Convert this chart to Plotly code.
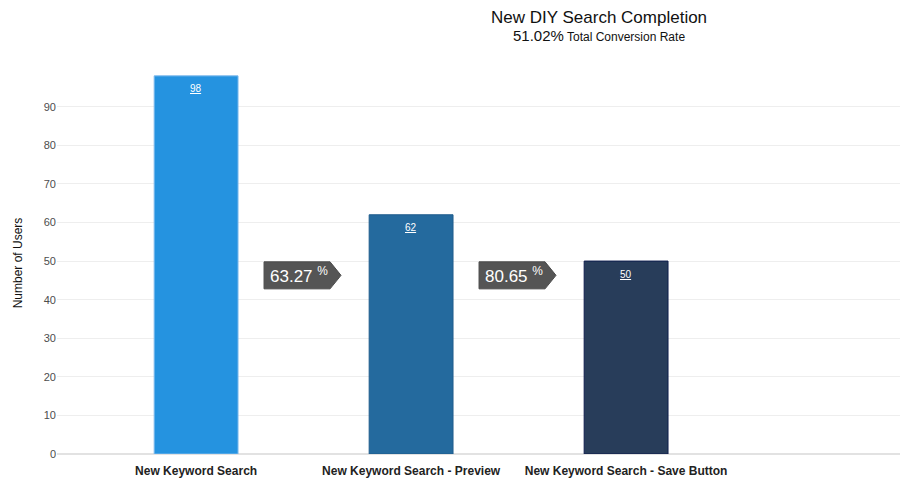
import plotly.graph_objects as go

categories = ["New Keyword Search", "New Keyword Search - Preview", "New Keyword Search - Save Button"]
users = [98, 62, 50]
bar_colors = ["#2593E0", "#246A9E", "#283D5A"]
bar_borders = ["#7DB9EC", "#1F5C8C", "#0E1D4C"]
title_text = "New DIY Search Completion"
y_ticks = [0, 10, 20, 30, 40, 50, 60, 70, 80, 90]

xs = list(range(len(categories)))
total_rate = users[-1] / users[0] * 100

fig = go.Figure()
fig.add_trace(go.Bar(
    x=xs, y=users,
    width=0.39,
    marker=dict(color=bar_colors, line=dict(color=bar_borders, width=1)),
    hoverinfo="skip",
))

shapes = []
annotations = []

# value labels inside bars
for x, v in zip(xs, users):
    annotations.append(dict(x=x, y=v, xref="x", yref="y", text=f"<u>{v}</u>",
                            showarrow=False, yanchor="middle", yshift=-13,
                            font=dict(size=10, color="white", family="Liberation Sans")))

# conversion arrows between steps
ytop, ybot = 49.8, 42.8
for i in range(len(users) - 1):
    rate = users[i + 1] / users[i] * 100
    x0, xn, x1 = i + 0.316, i + 0.623, i + 0.674
    ym = (ytop + ybot) / 2
    path = f"M {x0},{ybot} L {x0},{ytop} L {xn},{ytop} L {x1},{ym} L {xn},{ybot} Z"
    shapes.append(dict(type="path", path=path, xref="x", yref="y",
                       fillcolor="#555555", line=dict(color="#4a4a4a", width=1), layer="above"))
    annotations.append(dict(x=(x0 + xn) / 2 + 0.01, y=ym, xref="x", yref="y",
                            text=f"{rate:.2f} <sup>%</sup>", showarrow=False,
                            font=dict(size=17, color="white", family="Liberation Sans")))

annotations.append(dict(
    x=0.643, y=1.0, xref="paper", yref="paper", yanchor="bottom", xanchor="center",
    text=title_text, showarrow=False, font=dict(size=17, color="#111", family="Liberation Sans"), yshift=43))
annotations.append(dict(
    x=0.643, y=1.0, xref="paper", yref="paper", yanchor="bottom", xanchor="center",
    text=f"<span style='font-size:15px'>{total_rate:.2f}%</span> Total Conversion Rate",
    showarrow=False, font=dict(size=12, color="#111", family="Liberation Sans"), yshift=26))

fig.update_layout(
    width=900, height=495,
    margin=dict(l=57, r=0, t=72, b=41),
    paper_bgcolor="white", plot_bgcolor="white",
    showlegend=False,
    shapes=shapes,
    annotations=annotations,
    font=dict(family="Liberation Sans"),
    xaxis=dict(range=[-0.647, 3.274], tickvals=xs, ticktext=categories,
               tickfont=dict(size=12, color="#222", family="Liberation Sans", weight="bold"),
               ticklabelstandoff=8,
               showgrid=False, zeroline=False, showline=False, ticks="", fixedrange=True),
    yaxis=dict(range=[0, 99], tickvals=y_ticks, showgrid=True, gridcolor="#EEEEEE",
               zeroline=True, zerolinecolor="#E2E2E2", zerolinewidth=1.5,
               tickfont=dict(size=11, color="#4d4d4d", family="Liberation Sans"),
               title=dict(text="Number of Users", font=dict(size=12, color="#111"), standoff=18),
               ticks="", fixedrange=True),
)

fig.write_html("out.html", config={"displayModeBar": False},
               post_script="document.body.style.margin='0px';document.body.style.overflow='hidden';")
